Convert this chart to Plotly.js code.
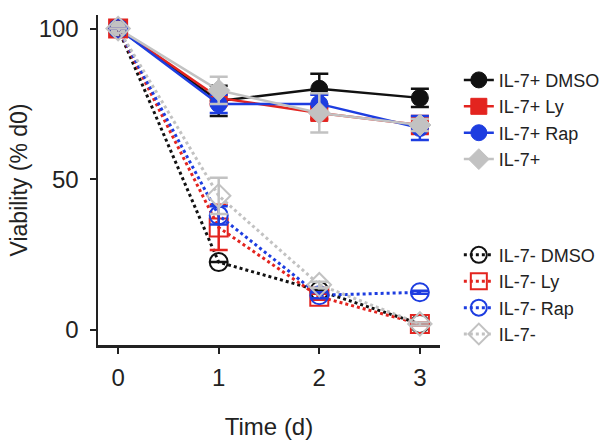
<!DOCTYPE html>
<html>
<head>
<meta charset="utf-8">
<script src="https://cdn.plot.ly/plotly-3.0.1.min.js"></script>
<style>
  html, body { margin: 0; padding: 0; background: #fff; }
  #chart { width: 599px; height: 444px; }
</style>
</head>
<body>
<div id="chart"></div>
<script>
// Time points (days)
const days = [0, 1, 2, 3];

// IL-7 present (solid lines, filled markers)
const dmsoPlus = [100, 76, 80, 77];
const dmsoPlusErr = [0, 5, 5, 3];
const lyPlus = [100, 77, 72, 68];
const lyPlusErr = [0, 2, 2, 3];
const rapPlus = [100, 75, 75, 67];
const rapPlusErr = [0, 3, 3, 4];
const il7Plus = [100, 79.5, 72, 68];
const il7PlusErr = [0, 4.5, 6.5, 2];

// IL-7 withdrawn (dotted lines, open markers)
const dmsoMinus = [100, 22.5, 13, 2];
const dmsoMinusErr = [0, 0, 0, 0];
const lyMinus = [100, 34, 11, 2];
const lyMinusErr = [0, 7.5, 1, 0.5];
const rapMinus = [100, 38, 11.5, 12.5];
const rapMinusErr = [0, 3, 1, 0.5];
const il7Minus = [100, 44.5, 15, 2];
const il7MinusErr = [0, 6, 1, 0.5];

// Legend names
const namesPlus = ['IL-7+ DMSO', 'IL-7+ Ly', 'IL-7+ Rap', 'IL-7+'];
const namesMinus = ['IL-7- DMSO', 'IL-7- Ly', 'IL-7- Rap', 'IL-7-'];

const BLACK = '#111111', RED = '#e3241f', BLUE = '#1d3de0', GRAY = '#c2c2c2';
const FONT = 'Liberation Sans, Arial, Helvetica, sans-serif';

function solid(y, err, name, color, symbol) {
  return {
    x: days, y: y, name: name, type: 'scatter', mode: 'lines+markers',
    legend: 'legend',
    line: { color: color, width: 2.5 },
    marker: { color: color, size: 17, symbol: symbol, line: { color: color, width: 1 } },
    error_y: { type: 'data', array: err, visible: true, color: color, thickness: 2.5, width: 9 }
  };
}
function dotted(y, err, name, color, symbol) {
  return {
    x: days, y: y, name: name, type: 'scatter', mode: 'lines+markers',
    legend: 'legend2',
    line: { color: color, width: 3, dash: 'dot' },
    marker: { color: color, size: 18, symbol: symbol, line: { color: color, width: 2 } },
    error_y: { type: 'data', array: err, visible: true, color: color, thickness: 2.5, width: 9 }
  };
}

const data = [
  solid(dmsoPlus, dmsoPlusErr, namesPlus[0], BLACK, 'circle'),
  solid(lyPlus, lyPlusErr, namesPlus[1], RED, 'square'),
  solid(rapPlus, rapPlusErr, namesPlus[2], BLUE, 'circle'),
  solid(il7Plus, il7PlusErr, namesPlus[3], GRAY, 'diamond'),
  dotted(dmsoMinus, dmsoMinusErr, namesMinus[0], BLACK, 'circle-open'),
  dotted(lyMinus, lyMinusErr, namesMinus[1], RED, 'square-open'),
  dotted(rapMinus, rapMinusErr, namesMinus[2], BLUE, 'circle-open'),
  dotted(il7Minus, il7MinusErr, namesMinus[3], GRAY, 'diamond-open')
];

const axisCommon = {
  showgrid: false, zeroline: false, showline: true,
  linecolor: '#222', linewidth: 2.5,
  ticks: 'outside', ticklen: 6, tickwidth: 2, tickcolor: '#222',
  tickfont: { family: FONT, size: 24, color: '#222' },
  automargin: false, fixedrange: true
};

const legendCommon = {
  xref: 'container', yref: 'container',
  x: 0.766, xanchor: 'left', yanchor: 'top',
  font: { family: FONT, size: 18, color: '#222' },
  bgcolor: 'rgba(0,0,0,0)', borderwidth: 0, tracegroupgap: 0
};

const layout = {
  width: 599, height: 444, autosize: false,
  margin: { l: 98, r: 159, t: 15, b: 99, autoexpand: false },
  paper_bgcolor: '#fff', plot_bgcolor: '#fff',
  font: { family: FONT, color: '#222' },
  showlegend: true,
  xaxis: Object.assign({}, axisCommon, {
    range: [-0.2, 3.2], tickvals: days, ticklabelstandoff: 4,
    title: { text: 'Time (d)', font: { family: FONT, size: 24, color: '#222' }, standoff: 28 }
  }),
  yaxis: Object.assign({}, axisCommon, {
    range: [-5, 104.5], tickvals: [0, 50, 100], ticklabelstandoff: 6,
    title: { text: 'Viability (% d0)', font: { family: FONT, size: 23, color: '#222' }, standoff: 5 }
  }),
  legend: Object.assign({}, legendCommon, { y: 0.861 }),
  legend2: Object.assign({}, legendCommon, { y: 0.467 })
};

Plotly.newPlot('chart', data, layout, { displayModeBar: false, staticPlot: true });
</script>
</body>
</html>
